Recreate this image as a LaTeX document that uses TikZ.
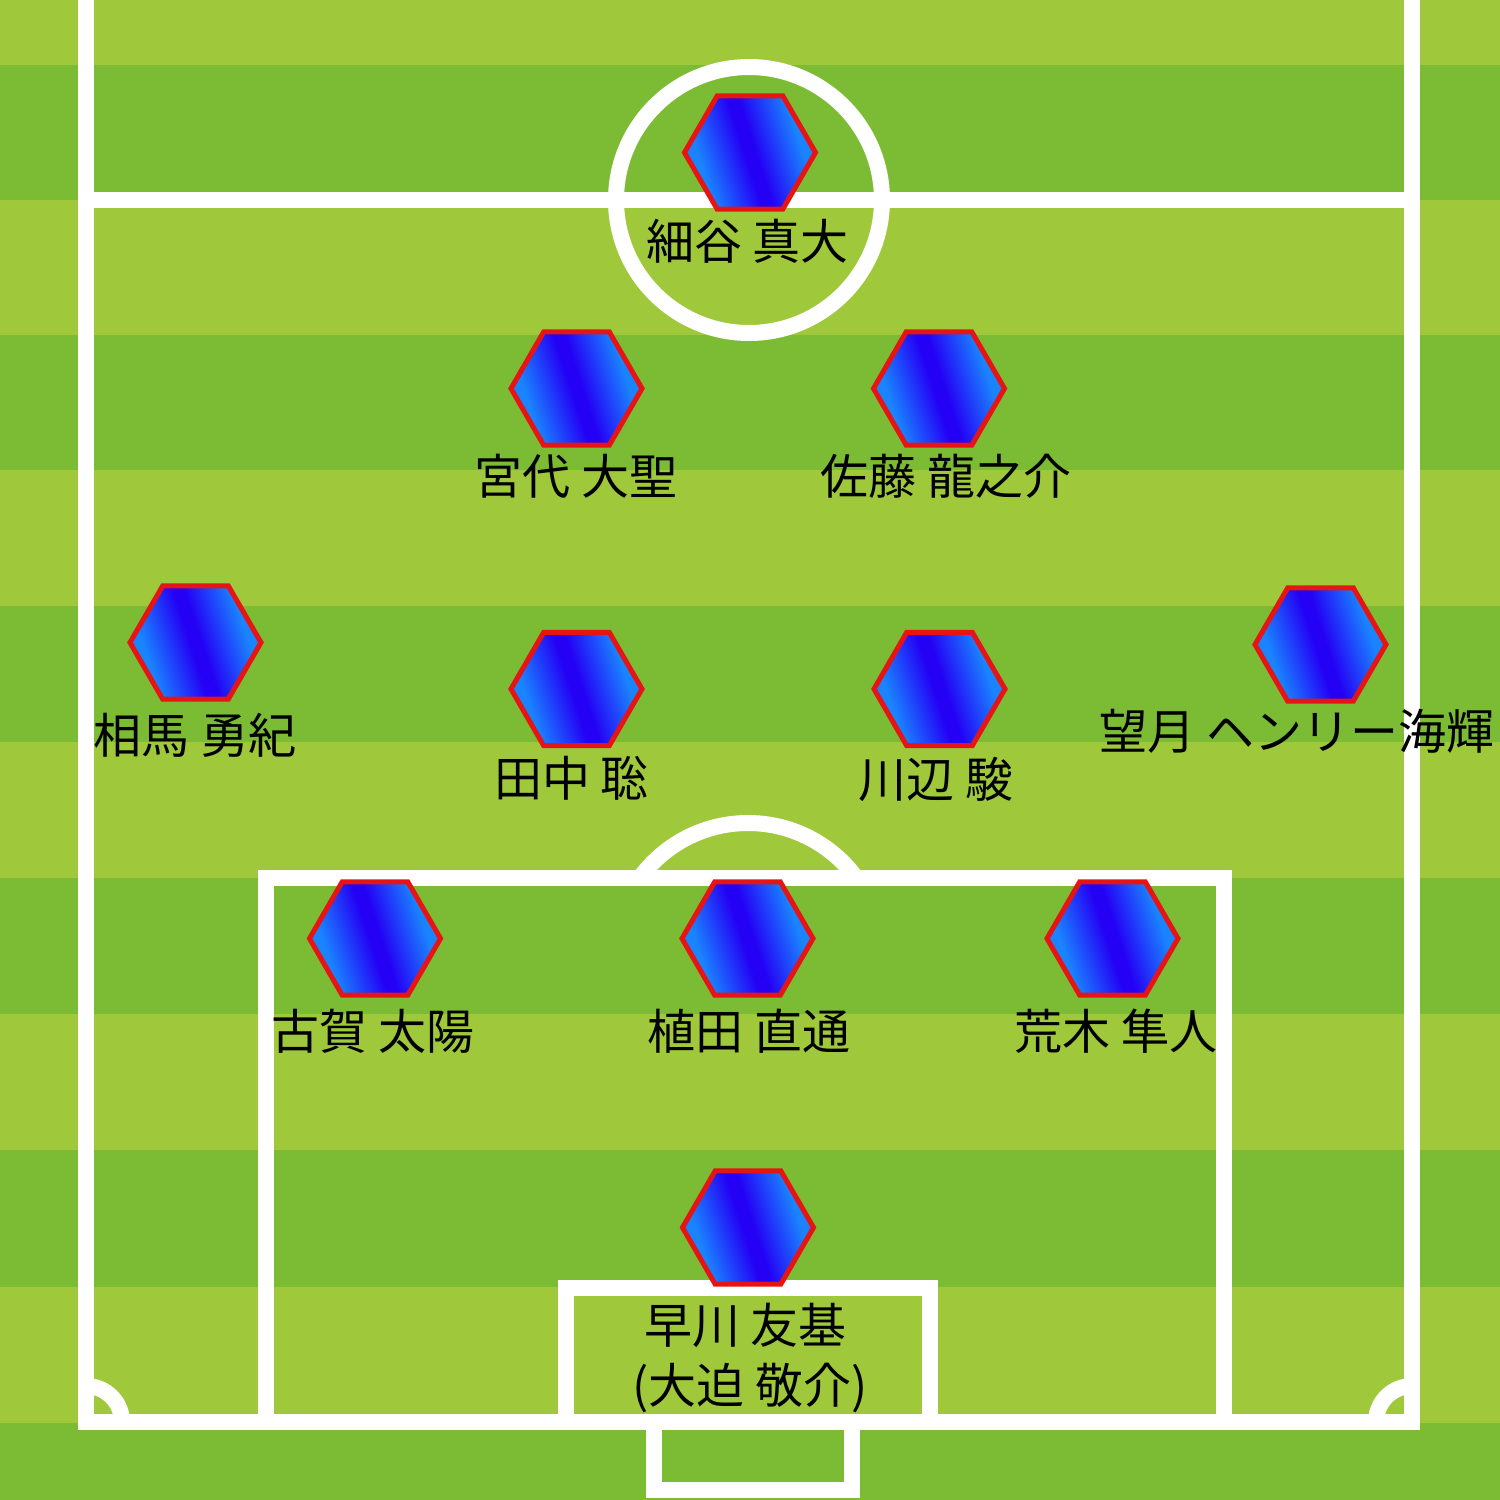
\documentclass[tikz,border=0pt]{standalone}
\usepackage{fontspec}
\setmainfont{Noto Sans CJK JP}
\definecolor{grassL}{RGB}{159,201,58}
\definecolor{grassD}{RGB}{124,188,52}
\definecolor{hexL}{RGB}{26,132,255}
\definecolor{hexD}{RGB}{36,0,245}
\definecolor{hexR}{RGB}{230,20,20}
\pgfdeclarehorizontalshading{hexshade}{100bp}{color(0bp)=(hexL); color(30bp)=(hexL); color(48bp)=(hexD); color(52bp)=(hexD); color(70bp)=(hexL); color(100bp)=(hexL)}
\tikzset{
  pitchline/.style={draw=white, line width=16pt, line join=miter},
  hexfill/.style={draw=hexR, line width=5pt, line join=miter,
    shade, shading=hexshade, shading angle=18},
  hexa/.pic={\path[hexfill] (0:65.5pt) -- (60:65.5pt) -- (120:65.5pt) -- (180:65.5pt) -- (240:65.5pt) -- (300:65.5pt) -- cycle;},
  lbl/.style={anchor=base, inner sep=0pt, text=black, font=\fontsize{48}{60}\selectfont},
  stripe/.style={fill=grassD, draw=none}
}
\begin{document}
\begin{tikzpicture}[x=1pt,y=-1pt]
\useasboundingbox (0,0) rectangle (1500,1500);
% grass
\fill[grassL] (0,0) rectangle (1500,1500);
\fill[stripe] (0,65) rectangle (1500,200);
\fill[stripe] (0,335) rectangle (1500,470);
\fill[stripe] (0,606) rectangle (1500,742);
\fill[stripe] (0,878) rectangle (1500,1014);
\fill[stripe] (0,1150) rectangle (1500,1287);
\fill[stripe] (0,1423) rectangle (1500,1500);
% pitch lines
\draw[pitchline] (86,-20) -- (86,1422) -- (1412,1422) -- (1412,-20);
\draw[pitchline] (86,200) -- (1412,200);
\draw[pitchline] (749,200) circle[radius=133];
\begin{scope}
  \clip (0,0) rectangle (1500,880);
  \draw[pitchline] (748,957) circle[radius=134];
\end{scope}
\draw[pitchline] (266,1422) -- (266,878) -- (1224,878) -- (1224,1422);
\draw[pitchline] (566,1422) -- (566,1288) -- (930,1288) -- (930,1422);
\draw[pitchline] (654,1422) -- (654,1490) -- (852,1490) -- (852,1422);
\begin{scope}
  \clip (86,1300) rectangle (200,1422);
  \draw[pitchline] (86,1422) circle[radius=36];
\end{scope}
\begin{scope}
  \clip (1300,1300) rectangle (1412,1422);
  \draw[pitchline] (1412,1422) circle[radius=36];
\end{scope}
% player positions
\coordinate (h1) at (750,152.5);
\coordinate (h2) at (576.5,388.5);
\coordinate (h3) at (939,388.5);
\coordinate (h4) at (195.5,642.5);
\coordinate (h5) at (576.5,689);
\coordinate (h6) at (939.5,689);
\coordinate (h7) at (1320.5,644.5);
\coordinate (h8) at (375,938.5);
\coordinate (h9) at (747.5,938.5);
\coordinate (h10) at (1112.5,938.5);
\coordinate (h11) at (748,1227.5);
\foreach \h in {h1,h2,h3,h4,h5,h6,h7,h8,h9,h10,h11}{\path (\h) pic {hexa};}
% labels
\node[lbl] (t1) at (747.5,259) {細谷 真大};
\node[lbl] (t2) at (576,494) {宮代 大聖};
\node[lbl] (t3) at (946,494) {佐藤 龍之介};
\node[lbl] (t4) at (195,753) {相馬 勇紀};
\node[lbl] (t5) at (571.5,796) {田中 聡};
\node[lbl] (t6) at (936,797) {川辺 駿};
\node[lbl] (t7) at (1297,749) {望月 ヘンリー海輝};
\node[lbl] (t8) at (373,1049) {古賀 太陽};
\node[lbl] (t9) at (749,1049) {植田 直通};
\node[lbl] (t10) at (1116,1049) {荒木 隼人};
\node[lbl] (t11a) at (745.5,1343) {早川 友基};
\node[lbl] (t11b) at (750,1403) {(大迫 敬介)};
\end{tikzpicture}
\end{document}
